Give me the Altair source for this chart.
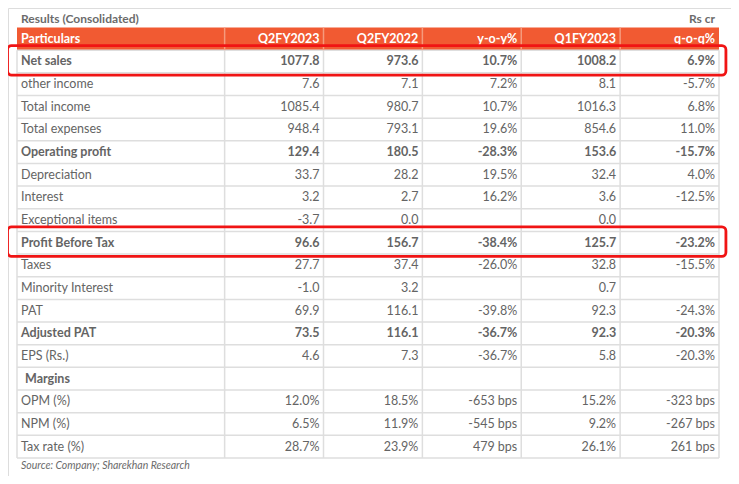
import altair as alt
import pandas as pd

# ---------------- data ----------------
headers = ["Particulars", "Q2FY2023", "Q2FY2022", "y-o-y%", "Q1FY2023", "q-o-q%"]
particulars = ["Net sales", "other income", "Total income", "Total expenses",
               "Operating profit", "Depreciation", "Interest", "Exceptional items",
               "Profit Before Tax", "Taxes", "Minority Interest", "PAT",
               "Adjusted PAT", "EPS (Rs.)", "Margins", "OPM (%)", "NPM (%)",
               "Tax rate (%)"]
q2fy2023 = ["1077.8", "7.6", "1085.4", "948.4", "129.4", "33.7", "3.2", "-3.7",
            "96.6", "27.7", "-1.0", "69.9", "73.5", "4.6", "", "12.0%", "6.5%", "28.7%"]
q2fy2022 = ["973.6", "7.1", "980.7", "793.1", "180.5", "28.2", "2.7", "0.0",
            "156.7", "37.4", "3.2", "116.1", "116.1", "7.3", "", "18.5%", "11.9%", "23.9%"]
yoy = ["10.7%", "7.2%", "10.7%", "19.6%", "-28.3%", "19.5%", "16.2%", "",
       "-38.4%", "-26.0%", "", "-39.8%", "-36.7%", "-36.7%", "", "-653 bps",
       "-545 bps", "479 bps"]
q1fy2023 = ["1008.2", "8.1", "1016.3", "854.6", "153.6", "32.4", "3.6", "0.0",
            "125.7", "32.8", "0.7", "92.3", "92.3", "5.8", "", "15.2%", "9.2%", "26.1%"]
qoq = ["6.9%", "-5.7%", "6.8%", "11.0%", "-15.7%", "4.0%", "-12.5%", "",
       "-23.2%", "-15.5%", "", "-24.3%", "-20.3%", "-20.3%", "", "-323 bps",
       "-267 bps", "261 bps"]
bold_rows = ["Net sales", "Operating profit", "Profit Before Tax", "Adjusted PAT", "Margins"]
highlight_rows = ["Net sales", "Profit Before Tax"]
title_text = "Results (Consolidated)"
unit_text = "Rs cr"
source_text = "Source: Company; Sharekhan Research"

# ---------------- layout ----------------
FONT = "Lato"
GREY = "#646464"
ORANGE = "#f15a32"
GRID = "#dedede"
col_widths = [2.1, 1, 1, 1, 1, 1]
edges = [0.0]
for w in col_widths:
    edges.append(round(edges[-1] + w, 3))
n_rows = len(particulars)
total_w = edges[-1]

xs = alt.Scale(domain=[0, total_w], range=[9, 711])
ys = alt.Scale(domain=[0, n_rows + 1], range=[19.5, 450])
X = lambda f: alt.X(f, type="quantitative", scale=xs, axis=None)
Y = lambda f: alt.Y(f, type="quantitative", scale=ys, axis=None)

columns = [particulars, q2fy2023, q2fy2022, yoy, q1fy2023, qoq]
cells = []
for i, name in enumerate(particulars):
    for c, col in enumerate(columns):
        cells.append({
            "text": col[i],
            "x": edges[0] if c == 0 else edges[c + 1],
            "y": i + 1.5,
            "col": c,
            "bold": name in bold_rows,
            "margin": name == "Margins",
        })
cells = pd.DataFrame(cells)

head = pd.DataFrame({"text": headers,
                     "xl": edges[:-1], "xr": edges[1:],
                     "x": [edges[0]] + edges[2:],
                     "col": range(len(headers))})
head["y0"] = 0
head["y1"] = 1
head["yc"] = 0.5

hrules = pd.DataFrame({"y": list(range(1, n_rows + 2))})
hrules["x0"] = 0
hrules["x1"] = total_w
vrules = pd.DataFrame({"x": edges})
vrules["y0"] = 1
vrules["y1"] = n_rows + 1
hsep = pd.DataFrame({"x": edges[1:-1]})
hsep["y0"] = 0
hsep["y1"] = 1

hl = pd.DataFrame({"row": [particulars.index(r) + 1 for r in highlight_rows]})
hl["y0"] = hl["row"] - 0.2
hl["y1"] = hl["row"] + 1.1
hl["x0"] = -0.096
hl["x1"] = total_w + 0.07

base_props = dict(font=FONT, baseline="middle")

header_bg = alt.Chart(head).mark_rect(color=ORANGE).encode(
    x=X("xl"), x2="xr", y=Y("y0"), y2="y1")
h_lines = alt.Chart(hrules).mark_rule(color=GRID, strokeWidth=1.5).encode(
    x=X("x0"), x2="x1", y=Y("y"))
v_lines = alt.Chart(vrules).mark_rule(color=GRID, strokeWidth=1.5).encode(
    x=X("x"), y=Y("y0"), y2="y1")
h_sep = alt.Chart(hsep).mark_rule(color="#f59a7c", strokeWidth=1.5).encode(
    x=X("x"), y=Y("y0"), y2="y1")

head_left = alt.Chart(head[head.col == 0]).mark_text(
    align="left", dx=4, fontWeight="bold", fontSize=12.5, color="white", **base_props
).encode(x=X("x"), y=Y("yc"), text="text:N")
head_right = alt.Chart(head[head.col > 0]).mark_text(
    align="right", dx=-4, fontWeight="bold", fontSize=12.5, color="white", **base_props
).encode(x=X("x"), y=Y("yc"), text="text:N")

def text_layer(df, align, dx, weight):
    return alt.Chart(df).mark_text(
        align=align, dx=dx, fontWeight=weight, fontSize=12.5, color=GREY, **base_props
    ).encode(x=X("x"), y=Y("y"), text="text:N")

left_reg = cells[(cells.col == 0) & (~cells.bold)]
left_bold = cells[(cells.col == 0) & (cells.bold) & (~cells.margin)]
left_margin = cells[(cells.col == 0) & (cells.margin)]
right_reg = cells[(cells.col > 0) & (~cells.bold) & (cells.text != "")]
right_bold = cells[(cells.col > 0) & (cells.bold) & (cells.text != "")]

t1 = text_layer(left_reg, "left", 4, "normal")
t2 = text_layer(left_bold, "left", 4, "bold")
t3 = text_layer(left_margin, "left", 8, "bold")
t4 = text_layer(right_reg, "right", -4, "normal")
t5 = text_layer(right_bold, "right", -4, "bold")

boxes = alt.Chart(hl).mark_rect(
    fillOpacity=0, stroke="#f01414", strokeWidth=2.8, cornerRadius=4
).encode(x=X("x0"), x2="x1", y=Y("y0"), y2="y1")

ann = pd.DataFrame({"text": [title_text, unit_text, source_text],
                    "x": [0, total_w, 0],
                    "y": [-0.36, -0.36, n_rows + 1.36]})
title_l = alt.Chart(ann.iloc[[0]]).mark_text(
    align="left", dx=4, fontWeight="bold", fontSize=12, color="#6b6b6b", **base_props
).encode(x=X("x"), y=Y("y"), text="text:N")
title_r = alt.Chart(ann.iloc[[1]]).mark_text(
    align="right", dx=-4, fontWeight="bold", fontSize=12, color="#6b6b6b", **base_props
).encode(x=X("x"), y=Y("y"), text="text:N")
source = alt.Chart(ann.iloc[[2]]).mark_text(
    align="left", dx=4, fontStyle="italic", fontSize=10.5, color="#6b6b6b", **base_props
).encode(x=X("x"), y=Y("y"), text="text:N")

chart = alt.layer(
    header_bg, h_lines, v_lines, h_sep, head_left, head_right,
    t1, t2, t3, t4, t5, boxes, title_l, title_r, source
).properties(
    width=723, height=468, padding=0,
    autosize=alt.AutoSizeParams(type="none")
).configure_view(stroke=None).configure(background="white")

chart.save("out.html", embed_options={"renderer": "svg", "actions": False})
